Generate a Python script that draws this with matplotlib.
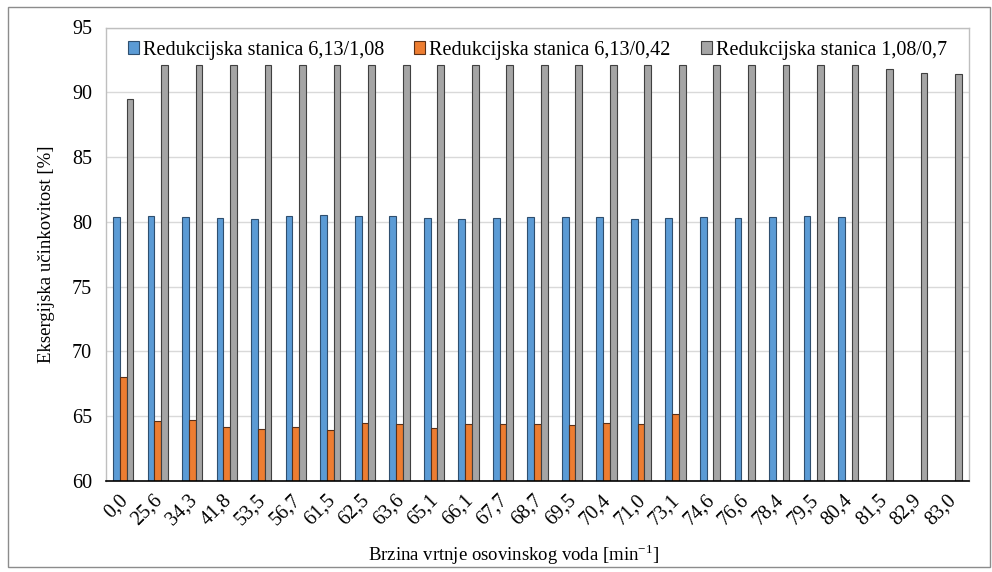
import numpy as np
import matplotlib
matplotlib.use('Agg')
import matplotlib.pyplot as plt
from matplotlib.patches import Rectangle
from matplotlib.transforms import ScaledTranslation

plt.rcParams['font.family'] = ['Liberation Serif', 'DejaVu Serif']

# Data
speeds = ['0,0', '25,6', '34,3', '41,8', '53,5', '56,7', '61,5', '62,5', '63,6', '65,1',
          '66,1', '67,7', '68,7', '69,5', '70,4', '71,0', '73,1', '74,6', '76,6', '78,4',
          '79,5', '80,4', '81,5', '82,9', '83,0']
nan = np.nan
rs_613_108 = [80.36, 80.44, 80.36, 80.28, 80.23, 80.44, 80.51, 80.46, 80.46, 80.33,
              80.23, 80.28, 80.36, 80.36, 80.36, 80.2, 80.28, 80.36, 80.28, 80.36,
              80.44, 80.39, nan, nan, nan]
rs_613_042 = [68.0, 64.6, 64.7, 64.2, 64.0, 64.2, 63.9, 64.45, 64.4, 64.1,
              64.4, 64.4, 64.4, 64.3, 64.5, 64.4, 65.2, nan, nan, nan,
              nan, nan, nan, nan, nan]
rs_108_07 = [89.5, 92.1, 92.1, 92.1, 92.1, 92.1, 92.1, 92.1, 92.1, 92.1,
             92.1, 92.1, 92.1, 92.1, 92.1, 92.1, 92.1, 92.1, 92.1, 92.1,
             92.1, 92.1, 91.8, 91.45, 91.4]

series = [
    ('Redukcijska stanica 6,13/1,08', rs_613_108, '#5B9BD5', '#2F4F6F'),
    ('Redukcijska stanica 6,13/0,42', rs_613_042, '#ED7D31', '#5A3018'),
    ('Redukcijska stanica 1,08/0,7', rs_108_07, '#A5A5A5', '#404040'),
]

fig = plt.figure(figsize=(9.92, 5.72), dpi=100)
ax = fig.add_axes([106 / 992, 1 - 481 / 572, 863 / 992, 453.5 / 572])

# outer chart border
fig.patches.append(Rectangle((8 / 992, 5 / 572), 982 / 992, 560 / 572, transform=fig.transFigure,
                             fill=False, edgecolor='#8C8C8C', linewidth=1))

x = np.arange(len(speeds))
w = 0.195
for i, (name, vals, col, edge) in enumerate(series):
    v = np.array(vals, dtype=float)
    ax.bar(x + (i - 1) * w, v - 60, bottom=60, width=w, color=col, edgecolor=edge,
           linewidth=0.8, label=name, zorder=3)

ax.set_xlim(-0.5, len(speeds) - 0.5)
ax.set_ylim(60, 95)
ax.set_yticks(np.arange(60, 96, 5))
ax.grid(axis='y', color='#D9D9D9', linewidth=1, zorder=0)
ax.set_xticks(x)
ax.set_xticklabels(speeds, rotation=45, ha='right', va='top', rotation_mode='anchor')
ax.tick_params(axis='both', length=0, labelsize=14.5)
ax.tick_params(axis='x', pad=7)
ax.tick_params(axis='y', pad=10)
shift = ScaledTranslation(-5 / 100, 0, fig.dpi_scale_trans)
for lbl in ax.get_xticklabels():
    lbl.set_transform(lbl.get_transform() + shift)

for side in ['top', 'right', 'left']:
    ax.spines[side].set_color('#BFBFBF')
    ax.spines[side].set_linewidth(1)
ax.spines['bottom'].set_color('#000000')
ax.spines['bottom'].set_linewidth(1.2)
ax.spines['bottom'].set_zorder(4)

ax.set_ylabel('Eksergijska učinkovitost [%]', fontsize=13.5, labelpad=12)
ax.set_xlabel('Brzina vrtnje osovinskog voda [min$^{\\mathregular{-1}}$]', fontsize=13.5, labelpad=4)
ax.xaxis.set_label_coords(0.472, -0.135)

ax.legend(loc='upper center', ncol=3, frameon=False, fontsize=14.5, handlelength=0.55,
          handleheight=0.55, handletextpad=0.2, columnspacing=1.5,
          bbox_to_anchor=(0.5, 1.0), borderaxespad=0.25)

fig.savefig('out.png', dpi=100)
